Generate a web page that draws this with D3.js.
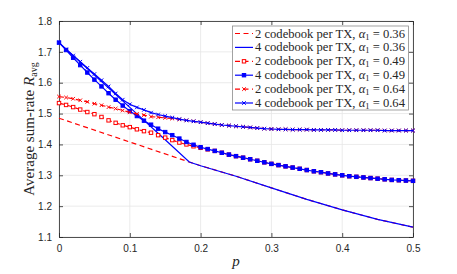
<!DOCTYPE html>
<html><head><meta charset="utf-8">
<script src="https://cdn.jsdelivr.net/npm/d3@7"></script>
<style>body{margin:0;background:#fff}svg{display:block}</style>
</head><body>
<svg id="c" width="457" height="274"></svg>
<script>
const xTicks = [0, 0.1, 0.2, 0.3, 0.4, 0.5];
const yTicks = [1.1, 1.2, 1.3, 1.4, 1.5, 1.6, 1.7, 1.8];
const pGrid = d3.range(0, 51).map(i => i / 100);

// 2 codebook per TX, alpha1 = 0.36 (p, value)
const red036 = [[0,1.485],[0.184,1.343],[0.2,1.331],[0.25,1.297],[0.3,1.259],[0.35,1.222],[0.4,1.188],[0.45,1.157],[0.5,1.132]];
// 4 codebook per TX, alpha1 = 0.36
const blue036 = [[0,1.73],[0.05,1.625],[0.1,1.52],[0.15,1.415],[0.184,1.343],[0.2,1.331],[0.25,1.297],[0.3,1.259],[0.35,1.222],[0.4,1.188],[0.45,1.157],[0.5,1.132]];
// 2 codebook per TX, alpha1 = 0.49 (values at p = 0, 0.01, ..., 0.5)
const red049 = [1.534,1.528,1.521,1.513,1.505,1.498,1.489,1.478,1.470,1.462,1.456,1.449,1.443,1.438,1.430,1.422,1.414,1.406,1.400,1.394,1.389,1.384,1.379,1.373,1.367,1.362,1.357,1.352,1.347,1.342,1.337,1.333,1.329,1.325,1.321,1.317,1.313,1.310,1.306,1.303,1.300,1.297,1.295,1.293,1.291,1.289,1.287,1.285,1.284,1.283,1.282];
// 4 codebook per TX, alpha1 = 0.49
const blue049 = [1.730,1.706,1.681,1.657,1.633,1.610,1.588,1.566,1.545,1.526,1.508,1.492,1.477,1.464,1.451,1.440,1.430,1.419,1.408,1.399,1.391,1.385,1.379,1.373,1.367,1.362,1.357,1.352,1.347,1.342,1.337,1.333,1.329,1.325,1.321,1.317,1.313,1.310,1.306,1.303,1.300,1.297,1.295,1.293,1.291,1.289,1.287,1.285,1.284,1.283,1.282];
// 2 codebook per TX, alpha1 = 0.64
const red064 = [1.555,1.552,1.548,1.543,1.538,1.532,1.527,1.521,1.516,1.510,1.504,1.499,1.495,1.490,1.488,1.486,1.484,1.481,1.478,1.475,1.472,1.469,1.466,1.463,1.461,1.459,1.457,1.455,1.453,1.451,1.450,1.449,1.449,1.448,1.448,1.448,1.447,1.447,1.447,1.447,1.446,1.446,1.446,1.446,1.446,1.446,1.445,1.445,1.445,1.445,1.445];
// 4 codebook per TX, alpha1 = 0.64
const blue064 = [1.730,1.708,1.688,1.668,1.648,1.628,1.608,1.588,1.565,1.545,1.530,1.520,1.512,1.503,1.497,1.492,1.487,1.482,1.478,1.475,1.472,1.469,1.466,1.463,1.461,1.459,1.457,1.455,1.453,1.451,1.450,1.449,1.449,1.448,1.448,1.448,1.447,1.447,1.447,1.447,1.446,1.446,1.446,1.446,1.446,1.446,1.445,1.445,1.445,1.445,1.445];

const legendLabels = ["0.36","0.36","0.49","0.49","0.64","0.64"];
const legendCodebooks = ["2","4","2","4","2","4"];

const RED = "#ff0000", BLUE = "#0000ff";
const series = [
  {pts: red036, color: RED, dash: "5,3.5", marker: null},
  {pts: blue036, color: BLUE, dash: null, marker: null},
  {pts: pGrid.map((p,i)=>[p, red049[i]]), color: RED, dash: "5,3.5", marker: "sqHollow"},
  {pts: pGrid.map((p,i)=>[p, blue049[i]]), color: BLUE, dash: null, marker: "sq"},
  {pts: pGrid.map((p,i)=>[p, red064[i]]), color: RED, dash: "5,3.5", marker: "x"},
  {pts: pGrid.map((p,i)=>[p, blue064[i]]), color: BLUE, dash: null, marker: "x"}
];

const L = 59, R = 413, T = 21, B = 237;
const x = d3.scaleLinear().domain([0, 0.5]).range([L, R]);
const y = d3.scaleLinear().domain([1.1, 1.8]).range([B, T]);
const svg = d3.select("#c");
const axisColor = "#262626";
const sans = "'Liberation Sans', Arial, sans-serif";
const serif = "'Liberation Serif', 'Times New Roman', serif";

// grid
const g = svg.append("g");
g.selectAll(".gx").data(xTicks).join("line")
  .attr("x1", d=>x(d)).attr("x2", d=>x(d)).attr("y1", T).attr("y2", B)
  .attr("stroke", "#e6e6e6").attr("stroke-width", 0.8);
g.selectAll(".gy").data(yTicks).join("line")
  .attr("y1", d=>y(d)).attr("y2", d=>y(d)).attr("x1", L).attr("x2", R)
  .attr("stroke", "#e6e6e6").attr("stroke-width", 0.8);

// axes with inward ticks
const ax = (gen, tr) => {
  const a = svg.append("g").attr("transform", tr).call(gen);
  a.select(".domain").attr("stroke", axisColor).attr("stroke-width", 0.8);
  a.selectAll(".tick line").attr("stroke", axisColor).attr("stroke-width", 0.8);
  a.selectAll("text").attr("fill", axisColor).style("font-family", sans).style("font-size", "10px");
  return a;
};
ax(d3.axisBottom(x).tickValues(xTicks).tickSizeInner(-4).tickSizeOuter(0).tickPadding(8).tickFormat(d3.format("")), `translate(0,${B})`);
ax(d3.axisLeft(y).tickValues(yTicks).tickSizeInner(-4).tickSizeOuter(0).tickPadding(7).tickFormat(d3.format(".1f")), `translate(${L},0)`);
ax(d3.axisTop(x).tickValues(xTicks).tickSizeInner(-4).tickSizeOuter(0).tickFormat(""), `translate(0,${T})`);
ax(d3.axisRight(y).tickValues(yTicks).tickSizeInner(-4).tickSizeOuter(0).tickFormat(""), `translate(${R},0)`);

// lines
const line = d3.line().x(d=>x(d[0])).y(d=>y(d[1]));
const plot = svg.append("g");
function drawMarker(sel, type, color, cx, cy) {
  if (type === "sq" || type === "sqHollow") {
    const h = 1.7;
    sel.append("rect").attr("x", cx-h).attr("y", cy-h).attr("width", 2*h).attr("height", 2*h)
      .attr("fill", type === "sq" ? color : "#fff").attr("stroke", color).attr("stroke-width", 1);
  } else if (type === "x") {
    const s = 1.8;
    sel.append("path").attr("d", `M${cx-s},${cy-s}L${cx+s},${cy+s}M${cx-s},${cy+s}L${cx+s},${cy-s}`)
      .attr("stroke", color).attr("stroke-width", 1).attr("fill", "none");
  }
}
series.forEach(s => {
  plot.append("path").attr("d", line(s.pts)).attr("fill", "none")
    .attr("stroke", s.color).attr("stroke-width", 1.2)
    .attr("stroke-dasharray", s.dash);
  if (s.marker) {
    const mg = plot.append("g");
    s.pts.forEach(d => drawMarker(mg, s.marker, s.color, x(d[0]), y(d[1])));
  }
});

// labels
svg.append("text").attr("x", (L+R)/2).attr("y", 266).attr("text-anchor", "middle")
  .style("font-family", serif).style("font-style", "italic").style("font-size", "15px").attr("fill", axisColor).text("p");
const yl = svg.append("text").attr("transform", `translate(34,${(T+B)/2}) rotate(-90)`).attr("text-anchor", "middle")
  .style("font-family", serif).style("font-size", "15px").attr("fill", axisColor);
yl.append("tspan").text("Average sum-rate ");
yl.append("tspan").style("font-style", "italic").text("R");
yl.append("tspan").attr("dy", 3).style("font-size", "10px").text("avg");

// legend
const lg = svg.append("g");
lg.append("rect").attr("x", 232.5).attr("y", 26).attr("width", 176).attr("height", 84)
  .attr("fill", "#fff").attr("stroke", "#8c8c8c").attr("stroke-width", 0.8);
series.forEach((s, i) => {
  const yy = 33.5 + i * 13.9;
  lg.append("line").attr("x1", 235).attr("x2", 253).attr("y1", yy).attr("y2", yy)
    .attr("stroke", s.color).attr("stroke-width", 1.2).attr("stroke-dasharray", s.dash);
  if (s.marker) drawMarker(lg, s.marker, s.color, 244, yy);
  const t = lg.append("text").attr("x", 255).attr("y", yy + 4).style("font-family", serif)
    .style("font-size", "12.6px").attr("fill", axisColor);
  t.append("tspan").text(`${legendCodebooks[i]} codebook per TX, `);
  t.append("tspan").style("font-style", "italic").text("α");
  t.append("tspan").attr("dy", 2).style("font-size", "8.5px").text("1");
  t.append("tspan").attr("dy", -2).text(` = ${legendLabels[i]}`);
});
</script>
</body></html>
